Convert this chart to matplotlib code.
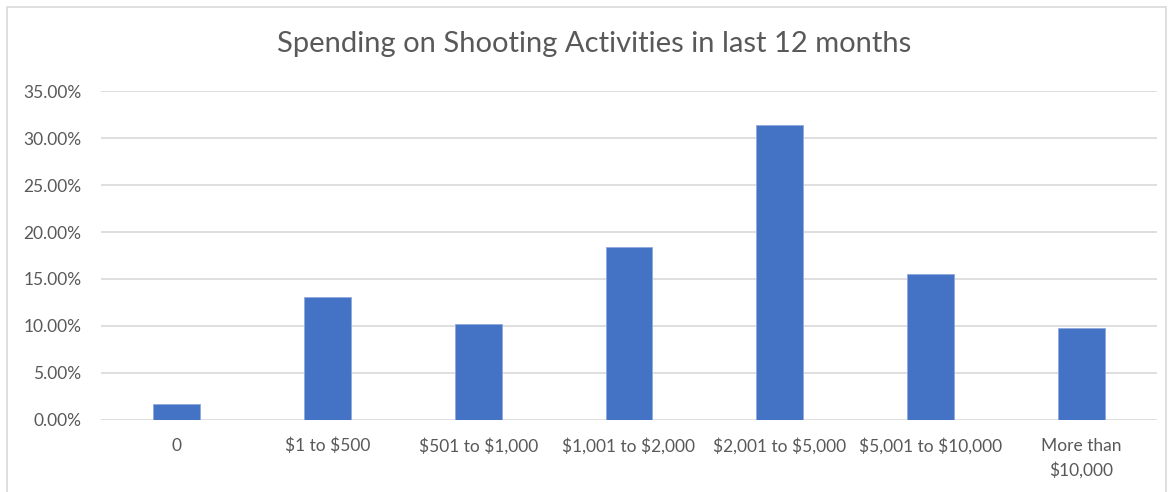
import matplotlib
matplotlib.use("Agg")
import matplotlib.pyplot as plt
from matplotlib.patches import Rectangle
from matplotlib.ticker import FuncFormatter

categories = ["0", "$1 to $500", "$501 to $1,000", "$1,001 to $2,000",
              "$2,001 to $5,000", "$5,001 to $10,000", "More than\n$10,000"]
values = [0.0164, 0.131, 0.1023, 0.1844, 0.314, 0.1553, 0.0978]
yticks = [0, 0.05, 0.10, 0.15, 0.20, 0.25, 0.30, 0.35]
title = "Spending on Shooting Activities in last 12 months"

plt.rcParams['font.family'] = ['Lato', 'DejaVu Sans']
plt.rcParams['text.parse_math'] = False

W, H = 1172, 492
fig = plt.figure(figsize=(W / 100, H / 100), dpi=100)
ax = fig.add_axes([101 / W, 1 - 419.7 / H, (1157 - 101) / W, (419.7 - 91.3) / H])

x = list(range(len(categories)))
ax.bar(x, values, width=0.31, color="#4472C4", edgecolor="#8FAADC", linewidth=0.6, zorder=3)
ax.set_xlim(-0.5, len(categories) - 0.5)
ax.set_ylim(0, 0.35)
ax.set_yticks(yticks)
ax.yaxis.set_major_formatter(FuncFormatter(lambda v, p: f"{v*100:.2f}%"))
ax.set_xticks(x)
ax.set_xticklabels(categories, fontsize=12.5, color="#595959", linespacing=1.55)
ax.tick_params(axis='y', labelsize=12.5, colors="#595959", length=0, pad=14)
ax.tick_params(axis='x', length=0, pad=13)
ax.grid(axis='y', color="#D9D9D9", linewidth=1.2, zorder=0)
for s in ax.spines.values():
    s.set_visible(False)

fig.text(594 / W, 1 - 44 / H, title, ha='center', va='center', fontsize=21, color="#595959")

fig.patches.append(Rectangle((7 / W, -0.05), (1166 - 7) / W, (1 - 7 / H) + 0.05,
                             transform=fig.transFigure, fill=False,
                             edgecolor="#D9D9D9", linewidth=1.2))

fig.savefig("out.png", dpi=100, facecolor="white")
